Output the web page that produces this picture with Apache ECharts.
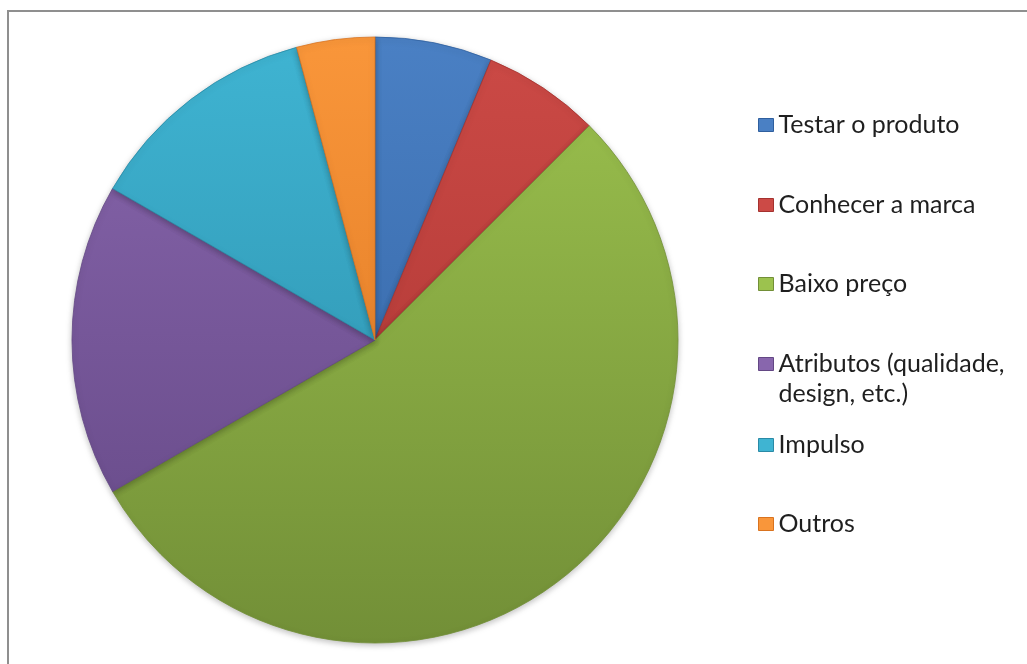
<!DOCTYPE html>
<html>
<head>
<meta charset="utf-8">
<script src="https://cdn.jsdelivr.net/npm/echarts@6/dist/echarts.min.js"></script>
<style>
  html, body { margin: 0; padding: 0; background: #ffffff; }
  #chart { width: 1027px; height: 664px; }
</style>
</head>
<body>
<div id="chart"></div>
<script>
// Motivos de compra (respostas)
const categories = [
  'Testar o produto',
  'Conhecer a marca',
  'Baixo preço',
  'Atributos (qualidade, design, etc.)',
  'Impulso',
  'Outros'
];
const values = [3, 3, 26, 8, 6, 2];
// Legend text; the leading blank line keeps the marker beside the first line
const legendLabels = [
  'Testar o produto',
  'Conhecer a marca',
  'Baixo preço',
  ' \nAtributos (qualidade,\ndesign, etc.)',
  'Impulso',
  'Outros'
];

// Office-style palette: light tone at the top, dark tone at the bottom
const topColors = ['#4a80c4', '#cc4a46', '#9cc24e', '#8866ad', '#3fb4d2', '#f9963a'];
const bottomColors = ['#2f5f9e', '#a5322f', '#728f37', '#634784', '#2a8aa6', '#d9731f'];

const cx = 375, cy = 340, r = 303;

function grad(i) {
  return new echarts.graphic.LinearGradient(0, cy - r, 0, cy + r, [
    { offset: 0, color: topColors[i] },
    { offset: 1, color: bottomColors[i] }
  ], true);
}

const legendTops = [105, 185, 264, 314, 425, 504];

const chart = echarts.init(document.getElementById('chart'));
chart.setOption({
  animation: false,
  graphic: [{
    type: 'rect',
    shape: { x: 8, y: 11, width: 1200, height: 800 },
    style: { fill: 'none', stroke: '#8f8f8f', lineWidth: 2 },
    silent: true
  }],
  legend: categories.map((name, i) => ({
    data: [{ name: name, itemStyle: { color: topColors[i], borderColor: bottomColors[i], borderWidth: 1 } }],
    left: 753,
    top: legendTops[i],
    orient: 'vertical',
    icon: 'rect',
    itemWidth: 15,
    itemHeight: 13,
    itemGap: 6,
    selectedMode: false,
    formatter: () => legendLabels[i],
    textStyle: {
      fontFamily: 'Lato, "Open Sans", sans-serif',
      fontSize: 25,
      color: '#1f1f1f',
      lineHeight: 30
    }
  })),
  series: [{
    type: 'pie',
    center: [cx, cy],
    radius: [0, r],
    startAngle: 90,
    clockwise: true,
    label: { show: false },
    labelLine: { show: false },
    emphasis: { disabled: true },
    itemStyle: {
      shadowBlur: 6,
      shadowOffsetY: 2,
      shadowColor: 'rgba(0,0,0,0.25)'
    },
    data: categories.map((name, i) => ({
      name: name,
      value: values[i],
      itemStyle: { color: grad(i), borderColor: bottomColors[i], borderWidth: 0.8 }
    }))
  }]
});
</script>
</body>
</html>
